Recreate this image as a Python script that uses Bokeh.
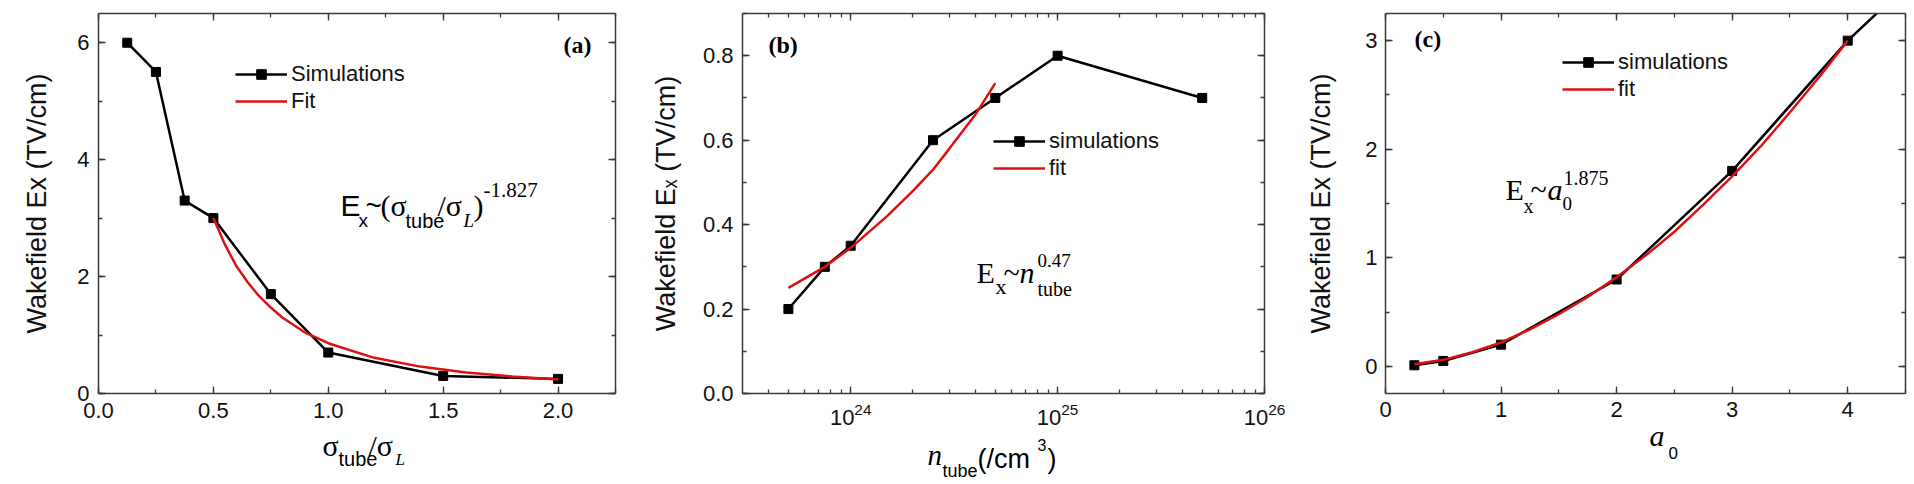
import math
from bokeh.plotting import figure
from bokeh.layouts import row, column
from bokeh.models import (Label, Legend, LegendItem, LinearAxis, LogAxis, SingleIntervalTicker,
                          LogTicker, NumeralTickFormatter, PrintfTickFormatter, Range1d)
from bokeh.embed import file_html
from bokeh.resources import INLINE

# ---------------- data ----------------
# (a)
a_sim_x = [0.125, 0.25, 0.375, 0.5, 0.75, 1.0, 1.5, 2.0]
a_sim_y = [6.0, 5.5, 3.3, 3.0, 1.7, 0.7, 0.3, 0.25]
a_fit_x = [0.5, 0.55, 0.6, 0.65, 0.7, 0.75, 0.8, 0.9, 1.0, 1.2, 1.4, 1.6, 1.8, 2.0]
a_fit_y = [3.0, 2.55, 2.18, 1.9, 1.66, 1.47, 1.3, 1.04, 0.86, 0.61, 0.46, 0.36, 0.29, 0.24]
# (b)
b_sim_x = [5e23, 7.5e23, 1e24, 2.5e24, 5e24, 1e25, 5e25]
b_sim_y = [0.2, 0.3, 0.35, 0.6, 0.7, 0.8, 0.7]
b_fit_x = [5e23, 7.5e23, 1e24, 1.5e24, 2e24, 2.5e24, 3e24, 4e24, 5e24]
b_fit_y = [0.25, 0.30, 0.345, 0.42, 0.48, 0.53, 0.58, 0.66, 0.735]
# (c)
c_sim_x = [0.25, 0.5, 1.0, 2.0, 3.0, 4.0, 5.0]
c_sim_y = [0.01, 0.05, 0.2, 0.8, 1.8, 3.0, 4.0]
c_fit_x = [0.25, 0.5, 0.75, 1.0, 1.25, 1.5, 1.75, 2.0, 2.25, 2.5, 2.75, 3.0, 3.25, 3.5, 3.75, 4.0]
c_fit_y = [0.02, 0.06, 0.13, 0.22, 0.34, 0.48, 0.64, 0.82, 1.02, 1.24, 1.49, 1.75, 2.03, 2.34, 2.66, 3.0]

SANS = "Liberation Sans"
SERIF = "Liberation Serif"
RED = "#dd1111"
AXC = "#3a3a3a"
TICK_PX = "22px"
PAGE_H = 482        # height of every panel canvas
TOP = 13            # page y of the frames' top edge
STRIP_TOP = 405     # page y where the transparent x-title strip begins
TOTAL_W = 1912
MID = 0.345         # em fraction between text baseline and text middle


def style_axis(ax, show_labels=True, standoff=9):
    ax.axis_line_color = AXC
    ax.axis_line_width = 1.5
    ax.major_tick_line_color = AXC
    ax.minor_tick_line_color = AXC
    ax.major_tick_line_width = 1.3
    ax.minor_tick_line_width = 1.3
    ax.major_tick_in = 7
    ax.major_tick_out = 0
    ax.minor_tick_in = 4
    ax.minor_tick_out = 0
    ax.major_label_text_font = SANS
    ax.major_label_text_color = "#111111"
    if show_labels:
        ax.major_label_text_font_size = TICK_PX
        ax.major_label_standoff = standoff
    else:
        ax.major_label_text_font_size = "1px"
        ax.major_label_standoff = 0
        ax.formatter = PrintfTickFormatter(format="")
    ax.axis_label_text_font = SANS
    ax.axis_label_text_font_style = "normal"
    ax.axis_label_text_font_size = "27px"
    ax.axis_label_text_color = "#111111"


def make_fig(width, xr, yr, bl, br, fb, log=False):
    p = figure(width=width, height=PAGE_H, x_range=Range1d(*xr), y_range=Range1d(*yr),
               x_axis_type="log" if log else "linear",
               output_backend="svg", toolbar_location=None,
               min_border_left=bl, min_border_right=br, min_border_top=TOP,
               min_border_bottom=PAGE_H - fb)
    p.grid.visible = False
    p.outline_line_color = None
    p.background_fill_color = "white"
    p.border_fill_color = "white"
    return p


def add_mirror(p, xt, yt, log=False):
    top = LogAxis(ticker=xt) if log else LinearAxis(ticker=xt)
    right = LinearAxis(ticker=yt)
    style_axis(top, False)
    style_axis(right, False)
    p.add_layout(top, "above")
    p.add_layout(right, "right")


def lbl(p, FL, FB, X, Y, text, size, font=SERIF, style="normal"):
    # label inside a panel's frame; X = left edge, Y = text baseline, both in page pixels
    ym = Y - MID * size
    p.add_layout(Label(x=X - FL, y=FB - ym, x_units="screen", y_units="screen", text=text,
                       text_font=font, text_font_size=f"{size}px", text_font_style=style,
                       text_align="left", text_baseline="middle", text_color="black"))


def add_series(p, sx, sy, fx, fy, names, loc):
    l1 = p.line(sx, sy, line_color="black", line_width=2.5)
    m1 = p.scatter(sx, sy, marker="square", size=9, fill_color="black", line_color="black")
    l2 = p.line(fx, fy, line_color=RED, line_width=2.5)
    leg = Legend(items=[LegendItem(label=names[0], renderers=[l1, m1]),
                        LegendItem(label=names[1], renderers=[l2])],
                 location=loc, padding=0, margin=0, spacing=1,
                 glyph_width=52, glyph_height=24, label_height=24, label_standoff=4,
                 border_line_color=None, background_fill_alpha=0,
                 label_text_font=SANS, label_text_font_size="22px", label_text_color="#111111")
    p.add_layout(leg, "center")


# ---------------- panel (a) ----------------
FLa, FBa = 98, 393
pa = make_fig(635, (0, 2.25), (0, 6.5), 98, 20, FBa)
xta = SingleIntervalTicker(interval=0.5, num_minor_ticks=2)
yta = SingleIntervalTicker(interval=2, num_minor_ticks=2)
pa.xaxis.ticker = xta
pa.yaxis.ticker = yta
pa.xaxis.formatter = NumeralTickFormatter(format="0.0")
for ax in pa.xaxis + pa.yaxis:
    style_axis(ax)
pa.yaxis.axis_label = "Wakefield Ex (TV/cm)"
pa.yaxis.axis_label_standoff = 22
add_mirror(pa, xta, yta)
add_series(pa, a_sim_x, a_sim_y, a_fit_x, a_fit_y, ["Simulations", "Fit"], (137, 279))

lbl(pa, FLa, FBa, 563, 53, "(a)", 24, style="bold")
lbl(pa, FLa, FBa, 340, 215, "E", 30, font=SANS)
lbl(pa, FLa, FBa, 358, 227, "x", 19, font=SANS)
lbl(pa, FLa, FBa, 365, 215, "~", 28, font=SANS)
lbl(pa, FLa, FBa, 380, 215, "(σ", 30)
lbl(pa, FLa, FBa, 405, 227, "tube", 20, font=SANS)
lbl(pa, FLa, FBa, 437, 215, "/σ", 30)
lbl(pa, FLa, FBa, 463, 227, "L", 19, style="italic")
lbl(pa, FLa, FBa, 473, 215, ")", 30)
lbl(pa, FLa, FBa, 483, 197, "-1.827", 21)

# ---------------- panel (b) ----------------
FLb, FBb = 742, 396
pb = make_fig(650, (3e23, 1e26), (0, 0.9), 107, 21, FBb, log=True)
xtb = LogTicker(num_minor_ticks=10)
ytb = SingleIntervalTicker(interval=0.2, num_minor_ticks=2)
pb.xaxis.ticker = xtb
pb.yaxis.ticker = ytb
pb.yaxis.formatter = NumeralTickFormatter(format="0.0")
for ax in pb.xaxis + pb.yaxis:
    style_axis(ax)
pb.yaxis.axis_label = "Wakefield E\u2093 (TV/cm)"
pb.yaxis.axis_label_standoff = 19
add_mirror(pb, xtb, ytb, log=True)
add_series(pb, b_sim_x, b_sim_y, b_fit_x, b_fit_y, ["simulations", "fit"], (251, 212))

lbl(pb, FLb, FBb, 768, 56, "(b)", 24, style="bold")
lbl(pb, FLb, FBb, 976, 285, "E", 30)
lbl(pb, FLb, FBb, 995, 297, "x", 22)
lbl(pb, FLb, FBb, 1003, 285, "~", 30)
lbl(pb, FLb, FBb, 1019, 285, "n", 30, style="italic")
lbl(pb, FLb, FBb, 1037, 270, "0.47", 19)
lbl(pb, FLb, FBb, 1037, 298, "tube", 20)

# ---------------- panel (c) ----------------
FLc, FBc = 1385, 396
pc = make_fig(627, (0, 4.5), (-0.25, 3.25), 100, 7, FBc)
xtc = SingleIntervalTicker(interval=1, num_minor_ticks=2)
ytc = SingleIntervalTicker(interval=1, num_minor_ticks=2)
pc.xaxis.ticker = xtc
pc.yaxis.ticker = ytc
for ax in pc.xaxis + pc.yaxis:
    style_axis(ax, standoff=8)
pc.yaxis.axis_label = "Wakefield Ex (TV/cm)"
pc.yaxis.axis_label_standoff = 26
add_mirror(pc, xtc, ytc)
add_series(pc, c_sim_x, c_sim_y, c_fit_x, c_fit_y, ["simulations", "fit"], (177, 291))

lbl(pc, FLc, FBc, 1414, 50, "(c)", 24, style="bold")
lbl(pc, FLc, FBc, 1505, 202, "E", 30)
lbl(pc, FLc, FBc, 1523, 215, "x", 20)
lbl(pc, FLc, FBc, 1530, 202, "~", 30)
lbl(pc, FLc, FBc, 1547, 202, "a", 30, style="italic")
lbl(pc, FLc, FBc, 1562, 213, "0", 19)
lbl(pc, FLc, FBc, 1563, 187, "1.875", 20)

# ---------------- x-axis titles: one transparent strip laid over the panels' bottoms ----------------
SH = PAGE_H - STRIP_TOP
strip = figure(width=TOTAL_W, height=SH, x_range=Range1d(0, TOTAL_W), y_range=Range1d(PAGE_H, STRIP_TOP),
               output_backend="svg", toolbar_location=None, min_border=0,
               x_axis_location=None, y_axis_location=None, margin=(-SH, 0, 0, 0))
strip.grid.visible = False
strip.outline_line_color = None
strip.background_fill_color = None
strip.border_fill_color = None


def slbl(X, Y, text, size, font=SERIF, style="normal"):
    strip.add_layout(Label(x=X, y=Y - MID * size, text=text, text_font=font,
                           text_font_size=f"{size}px", text_font_style=style,
                           text_align="left", text_baseline="middle", text_color="black"))


# (a)  sigma_tube / sigma_L
slbl(322, 455, "σ", 30)
slbl(338, 465, "tube", 20, font=SANS)
slbl(368, 455, "/σ", 30)
slbl(395, 465, "L", 17, style="italic")
# (b)  n_tube (/cm^3)
slbl(927, 465, "n", 29, style="italic")
slbl(942, 477, "tube", 18, font=SANS)
slbl(977, 468, "(/cm", 27, font=SANS)
slbl(1037, 450, "3", 16, font=SANS)
slbl(1047, 468, ")", 27, font=SANS)
# (c)  a_0
slbl(1649, 445, "a", 30, style="italic")
slbl(1668, 458, "0", 17, font=SANS)

layout = column(row(pa, pb, pc), strip)
open("out.html", "w").write(file_html(layout, INLINE))
